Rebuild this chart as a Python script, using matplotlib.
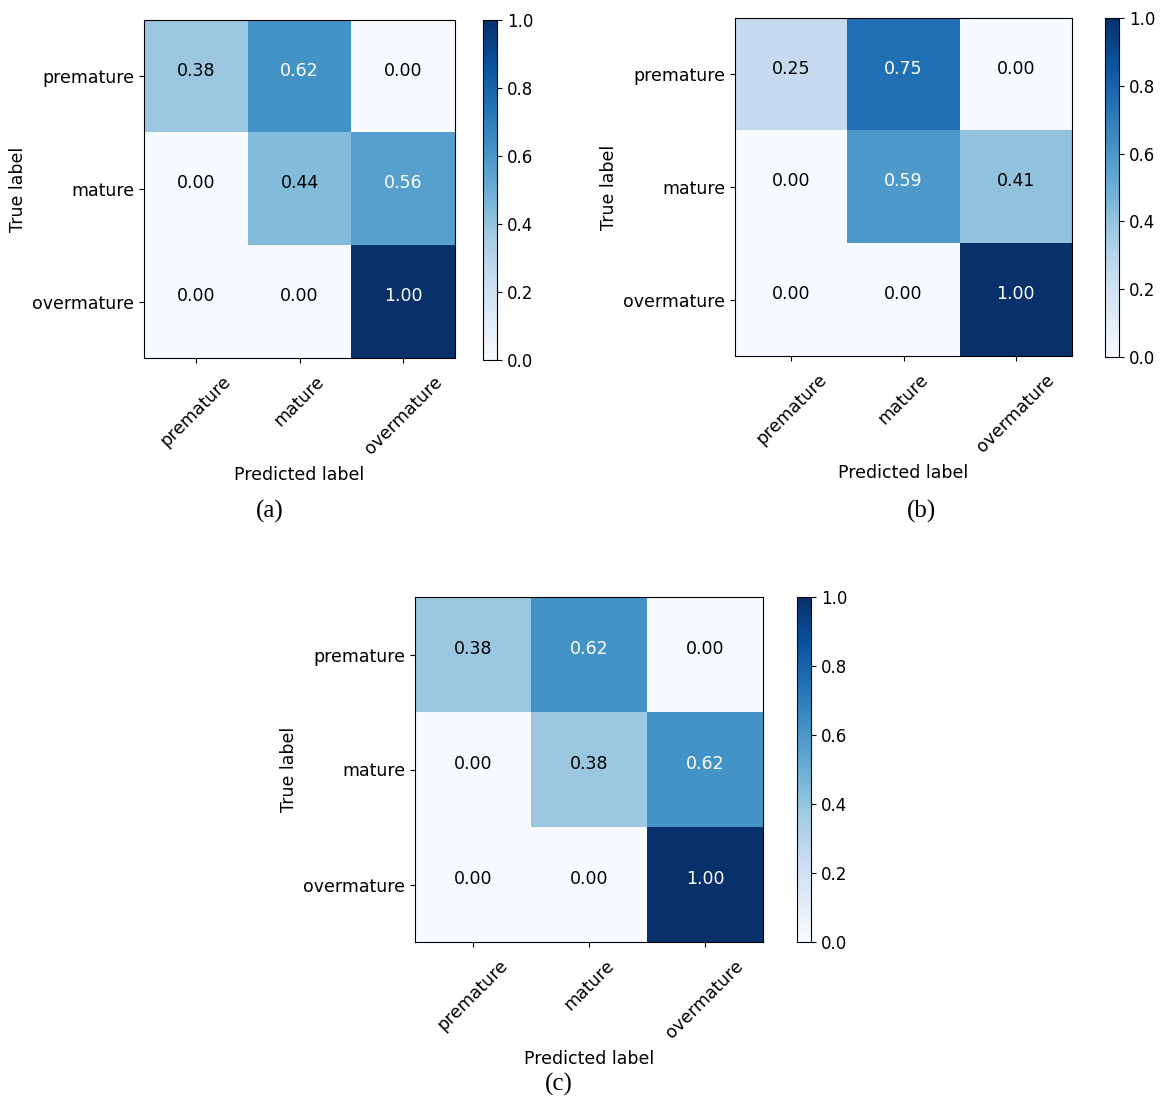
import matplotlib.pyplot as plt
import numpy as np

classes = ['premature', 'mature', 'overmature']

cm_a = [[0.38, 0.62, 0.00],
        [0.00, 0.44, 0.56],
        [0.00, 0.00, 1.00]]
cm_b = [[0.25, 0.75, 0.00],
        [0.00, 0.59, 0.41],
        [0.00, 0.00, 1.00]]
cm_c = [[0.38, 0.62, 0.00],
        [0.00, 0.38, 0.62],
        [0.00, 0.00, 1.00]]

panel_names = ['(a)', '(b)', '(c)']

W, H = 1164, 1097
fig = plt.figure(figsize=(W / 100, H / 100), dpi=100)


def px_axes(x0, y0, x1, y1):
    # pixel box (top-left origin) -> figure fraction
    return fig.add_axes([x0 / W, 1 - y1 / H, (x1 - x0) / W, (y1 - y0) / H])


def draw_cm(cm, ax_box, cb_box, label, label_xy):
    cm = np.array(cm)
    ax = px_axes(*ax_box)
    cax = px_axes(*cb_box)
    im = ax.imshow(cm, interpolation='nearest', cmap=plt.cm.Blues,
                   vmin=0, vmax=1, aspect='auto')
    cb = fig.colorbar(im, cax=cax, ticks=np.arange(0, 1.01, 0.2))
    cb.ax.tick_params(labelsize=12)
    ticks = np.arange(len(classes))
    ax.set_xticks(ticks)
    ax.set_xticklabels(classes, rotation=45, fontsize=12.5)
    ax.tick_params(axis='x', pad=7)
    ax.set_yticks(ticks)
    ax.set_yticklabels(classes, fontsize=12.5)
    thresh = cm.max() / 2.
    for i in range(cm.shape[0]):
        for j in range(cm.shape[1]):
            ax.text(j, i - 0.05, format(cm[i, j], '.2f'),
                    ha='center', va='center', fontsize=12.5,
                    color='white' if cm[i, j] > thresh else 'black')
    ax.set_ylabel('True label', fontsize=12.5)
    ax.set_xlabel('Predicted label', fontsize=12.5, labelpad=6)
    fig.text(label_xy[0] / W, 1 - label_xy[1] / H, label,
             fontsize=18, family='Liberation Serif', ha='center', va='center')


draw_cm(cm_a, (144, 20, 455, 358), (483, 20, 497, 360), panel_names[0], (270, 511))
draw_cm(cm_b, (735, 18, 1072, 356), (1105, 18, 1119, 357), panel_names[1], (922, 511))
draw_cm(cm_c, (415, 597, 763, 942), (797, 597, 811, 942), panel_names[2], (559, 1084))

fig.savefig('out.png', dpi=100)
